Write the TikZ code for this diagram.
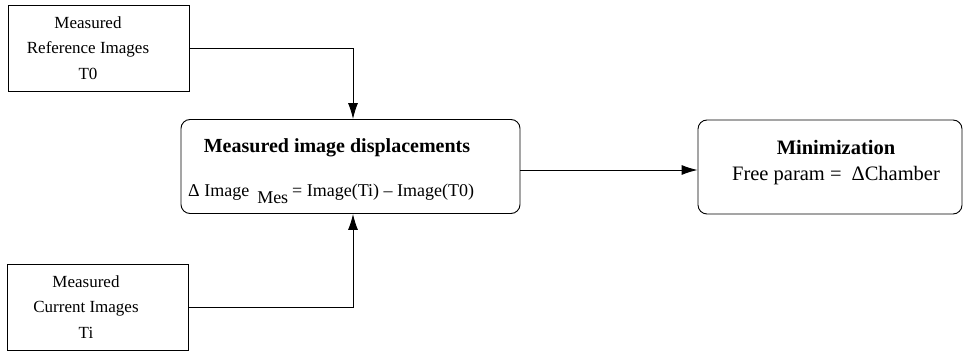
\documentclass[tikz,border=0pt]{standalone}
\usepackage{fontspec}
\setmainfont{Liberation Serif}
\usetikzlibrary{arrows.meta,positioning}
\tikzset{>={Latex[length=16pt,width=10pt]}}
\tikzset{inbox/.style={draw, line width=0.9pt, minimum width=181pt, minimum height=86pt, inner sep=0pt}}
\tikzset{stagebox/.style={draw, line width=0.9pt, rounded corners=9pt, minimum height=94pt, inner sep=0pt}}
\tikzset{flow/.style={->, line width=0.9pt}}

\begin{document}
\begin{tikzpicture}[x=1pt,y=-1pt]
      \useasboundingbox (0,0) rectangle (964,352);
      % input boxes
      \node[inbox] (ref) at (98.5,48) {};
      \node[align=center, font=\fontsize{17}{25.5}\selectfont] (reftext) at (88,48) {Measured\\Reference Images\\T0};
      \node[inbox] (cur) at (98,307) {};
      \node[align=center, font=\fontsize{17}{25.5}\selectfont] (curtext) at (86,307) {Measured\\Current Images\\Ti};
      % processing boxes
      \node[stagebox, minimum width=339pt] (mid) at (350.5,166.5) {};
      \node[font=\fontsize{20}{24}\bfseries\selectfont] (midtitle) at (337,148) {Measured image displacements};
      \node[anchor=base west, inner sep=0pt, font=\fontsize{18}{22}\selectfont] (midformula) at (188,197) {Δ Image\hspace{8pt}\raisebox{-7pt}{Mes}\hspace{4pt}= Image(Ti) – Image(T0)};
      \node[stagebox, minimum width=264pt] (mini) at (830,167) {};
      \node[align=center, font=\fontsize{20.5}{26}\selectfont] (minitext) at (836,163) {\textbf{Minimization}\\Free param =\hspace{10pt}ΔChamber};
      % connectors
      \draw[flow] (ref.east) -| ([xshift=2.5pt]mid.north);
      \draw[flow] (cur.east) -| ([xshift=2.5pt]mid.south);
      \draw[flow] ([yshift=-3.5pt]mid.east) -- ([yshift=-3pt]mini.west);
\end{tikzpicture}
\end{document}
